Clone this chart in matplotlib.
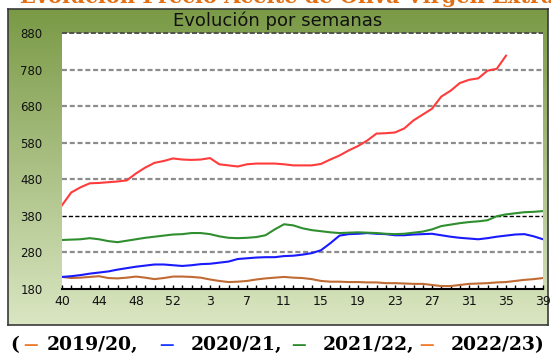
import numpy as np
import matplotlib
matplotlib.use("Agg")
import matplotlib.pyplot as plt

plt.rcParams['lines.scale_dashes'] = False

weeks = [str(w) for w in list(range(40, 54)) + list(range(1, 40))]
tick_labels = ["40", "44", "48", "52", "3", "7", "11", "15", "19", "23", "27", "31", "35", "39"]

s2019 = [213, 210, 211, 213, 215, 210, 209, 211, 214, 211, 207, 210, 214, 214, 213, 211,
         206, 202, 199, 200, 202, 206, 209, 211, 213, 211, 210, 207, 202, 200, 200, 199,
         199, 198, 198, 196, 196, 195, 194, 194, 191, 188, 188, 191, 194, 195, 196, 198,
         199, 202, 205, 207, 210]
s2020 = [213, 215, 218, 222, 225, 228, 233, 237, 241, 244, 247, 247, 245, 243, 245, 248,
         249, 252, 255, 262, 264, 266, 267, 267, 270, 271, 274, 278, 286, 305, 326, 330,
         331, 333, 331, 330, 327, 327, 329, 330, 331, 327, 323, 320, 318, 316, 319, 323,
         326, 329, 330, 324, 316]
s2021 = [314, 315, 316, 319, 316, 311, 308, 312, 316, 320, 323, 326, 329, 330, 333, 333,
         330, 324, 320, 319, 320, 322, 327, 343, 357, 354, 346, 341, 338, 335, 333, 334,
         335, 334, 333, 331, 330, 331, 334, 337, 343, 352, 356, 360, 363, 365, 368, 379,
         384, 387, 390, 391, 393]
s2022 = [409, 444, 458, 469, 470, 472, 474, 477, 496, 512, 525, 530, 537, 534, 533, 534,
         538, 521, 518, 515, 521, 523, 523, 523, 521, 518, 518, 518, 522, 534, 545, 559,
         571, 586, 605, 606, 608, 619, 641, 657, 673, 706, 722, 743, 752, 756, 777, 782,
         818]

W, H = 551, 355
fig = plt.figure(figsize=(W / 100, H / 100), dpi=100)
fig.patch.set_facecolor('white')

def rect(x0, y0, x1, y1):
    return [x0 / W, 1 - y1 / H, (x1 - x0) / W, (y1 - y0) / H]

# gradient frame
bg = fig.add_axes(rect(8, 9, 548, 325))
top = np.array([122, 154, 70]) / 255
bot = np.array([218, 230, 194]) / 255
t = np.linspace(0, 1, 256)[:, None]
grad = top[None, :] * (1 - t) + bot[None, :] * t
bg.imshow(grad[:, None, :], aspect='auto', extent=[0, 1, 0, 1], interpolation='bilinear')
bg.set_xlim(0, 1); bg.set_ylim(0, 1)
bg.set_xticks([]); bg.set_yticks([])
for sp in bg.spines.values():
    sp.set_color('#3a3a3a'); sp.set_linewidth(1.2)

ax = fig.add_axes(rect(62, 33, 543, 289))
ax.set_facecolor('white')
x = np.arange(len(weeks))

for yv in [280, 480, 580, 680, 780]:
    ax.axhline(yv, color='#8c8c8c', lw=1.6, dashes=(3.6, 2.0), zorder=1)
ax.axhline(380, color='black', lw=1.0, dashes=(3.0, 1.6), zorder=1)
ax.axhline(880, color='#505050', lw=1.4, dashes=(3.6, 1.6), zorder=1, clip_on=False)

ax.plot(x[:len(s2019)], s2019, color='#c06a34', lw=1.5, zorder=3)
ax.plot(x[:len(s2020)], s2020, color='#1a1aff', lw=1.5, zorder=3)
ax.plot(x[:len(s2021)], s2021, color='#2f8f2f', lw=1.5, zorder=3)
ax.plot(x[:len(s2022)], s2022, color='#ff3b3b', lw=1.5, zorder=4)

ax.set_xlim(0, len(weeks) - 1)
ax.set_ylim(180, 880)
ax.set_yticks(range(180, 881, 100))
ax.set_yticklabels([str(v) for v in range(180, 881, 100)], fontsize=8.5, color='#111111')
ax.set_xticks(x[::4])
ax.set_xticklabels(tick_labels, fontsize=9, color='#111111')
ax.set_xticks(x, minor=True)
ax.tick_params(axis='y', length=0, pad=14)
ax.tick_params(axis='x', which='both', direction='in', length=3, width=1, color='black', pad=4)
for s in ['top', 'left', 'right']:
    ax.spines[s].set_visible(False)
ax.spines['bottom'].set_color('black')
ax.spines['bottom'].set_linewidth(1.5)

fig.text(278 / W, 1 - 21 / H, "Evolución por semanas", ha='center', va='center',
         fontsize=13, color='#111111')

fig.text(287 / W, 1 - 3 / H, "Evolución Precio Aceite de Oliva Virgen Extra", ha='center',
         va='baseline', fontsize=15, fontweight='bold', color='#e36f12', family='DejaVu Serif')

ly = 1 - 345 / H
pieces = [(10, "(", 'black', 13.5), (23, "—", '#e87a2a', 10.5), (47, "2019/20,", 'black', 13.5),
          (159, "—", '#1a3cff', 10.5), (191, "2020/21,", 'black', 13.5),
          (291, "—", '#2a8a2a', 10.5), (323, "2021/22,", 'black', 13.5),
          (419, "—", '#f07a2a', 10.5), (451, "2022/23)", 'black', 13.5)]
for px, txt, col, fs in pieces:
    fig.text(px / W, ly, txt, ha='left', va='center', fontsize=fs, fontweight='bold',
             color=col, family='DejaVu Serif')

fig.savefig('out.png', dpi=100)
